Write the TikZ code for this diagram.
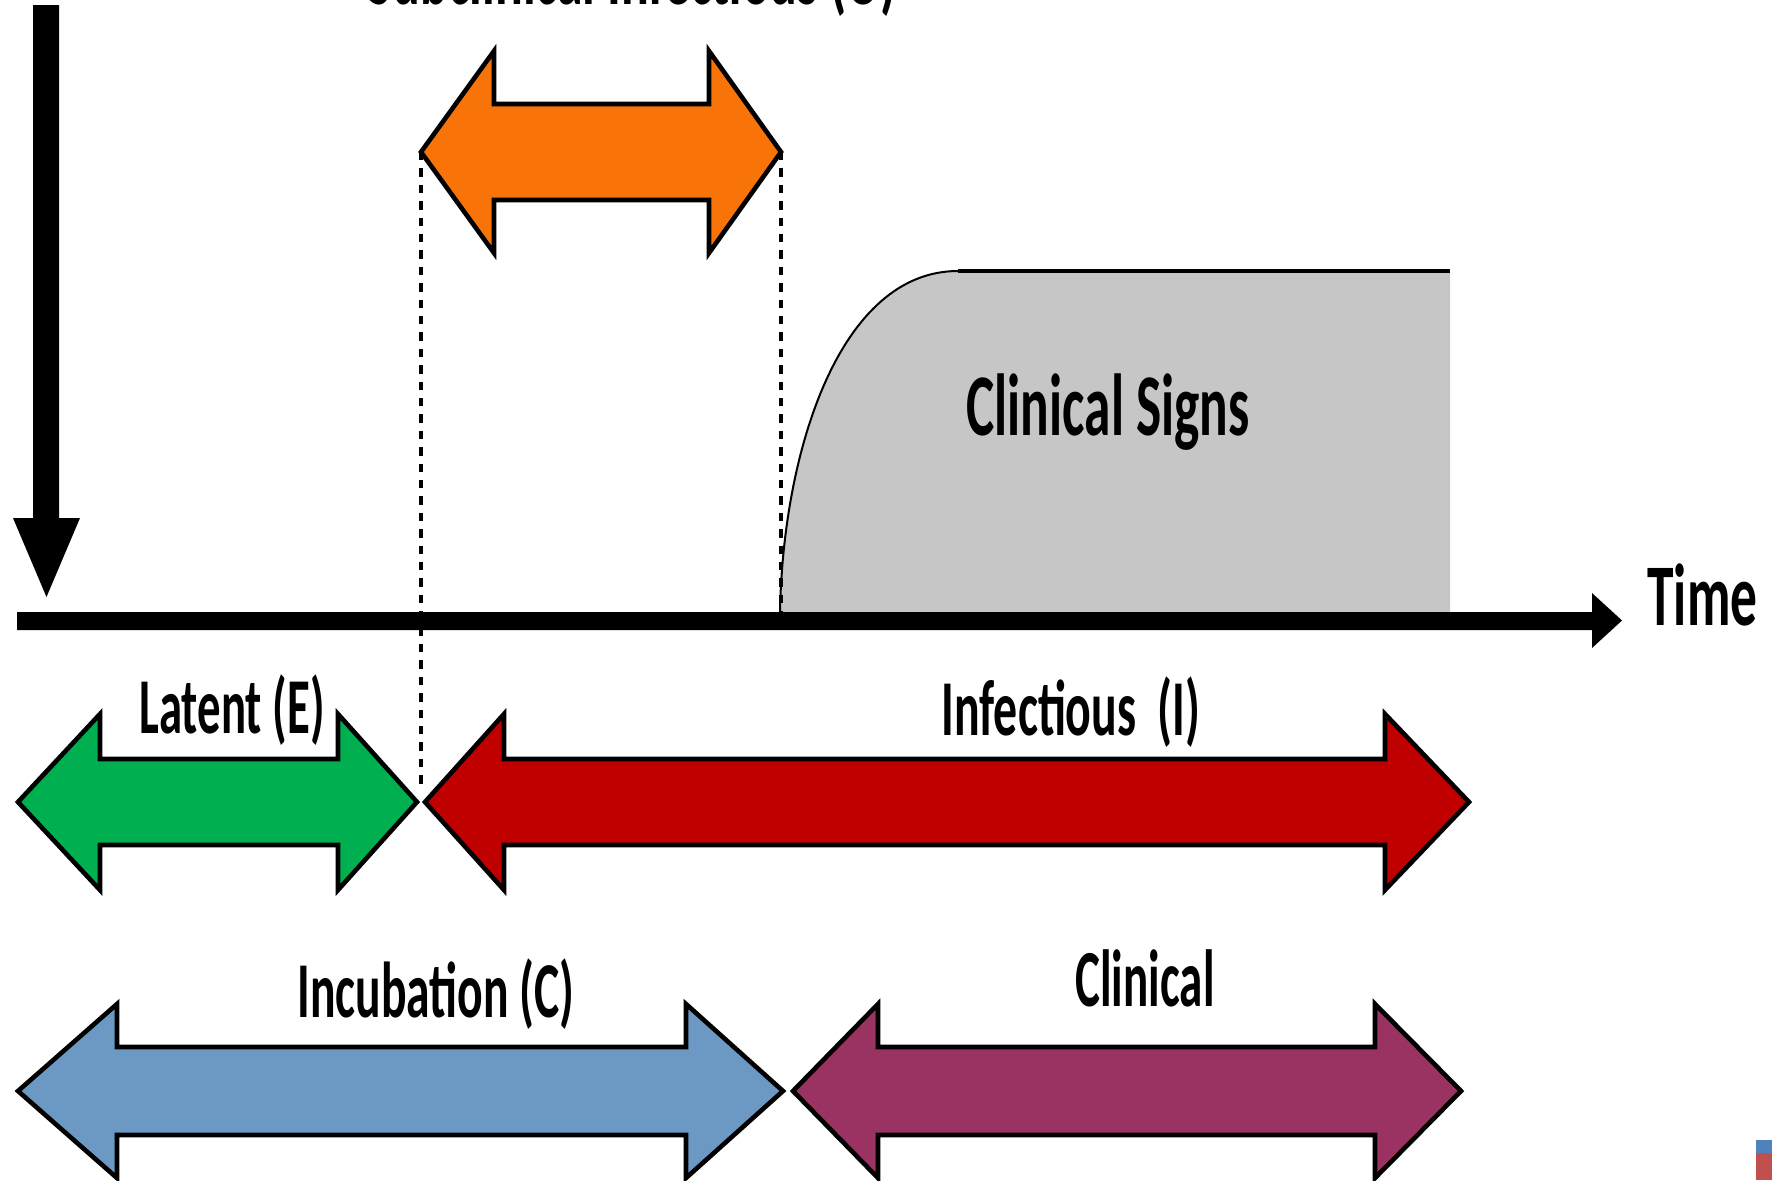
\documentclass[tikz,border=0pt]{standalone}
\usepackage{fontspec}
\setmainfont{Carlito}
\usepackage{graphicx}
\definecolor{cOrange}{HTML}{F87408}
\definecolor{cGreen}{HTML}{00B050}
\definecolor{cRed}{HTML}{C00000}
\definecolor{cBlue}{HTML}{6C98C4}
\definecolor{cPurple}{HTML}{9A3262}
\definecolor{cGray}{HTML}{C6C6C6}
\definecolor{cMsBlue}{HTML}{4F81BD}
\definecolor{cMsRed}{HTML}{C0504D}
\newcommand\lbl[3]{\resizebox{#1}{\height}{\fontsize{#2}{#2}\selectfont\bfseries #3}}
% color, xLeftTip, xLeftBase, xRightBase, xRightTip, yCenter, headHalf, shaftHalf
\newcommand\dblarrow[8]{%
  \filldraw[dblar, fill=#1] (#2,#6) -- (#3,#6-#7) -- (#3,#6-#8) -- (#4,#6-#8) -- (#4,#6-#7) -- (#5,#6)
    -- (#4,#6+#7) -- (#4,#6+#8) -- (#3,#6+#8) -- (#3,#6+#7) -- cycle;}
\begin{document}
\begin{tikzpicture}[x=0.5pt,y=-0.5pt,
  dblar/.style={draw=black, line width=2.3pt, line join=miter},
  dotline/.style={line width=2.2pt, dash pattern=on 4.2pt off 4pt},
  lab/.style={inner sep=0pt, anchor=base, text=black}]
\useasboundingbox (0,0) rectangle (1772,1180);

% clinical signs area
\fill[cGray] (780,612) .. controls (783,450) and (840,271) .. (958,271) -- (1450,271) -- (1450,612) -- cycle;
\draw[line width=1pt] (780,612) .. controls (783,450) and (840,271) .. (958,271);
\draw[line width=2pt] (958,271) -- (1450,271);

% dotted guides
\coordinate (oL) at (421,152);
\coordinate (oR) at (781,152);
\coordinate (jE) at (421,790);
\coordinate (jT) at (781,612);
\draw[dotline] (oL) -- (jE);
\draw[dotline] (oR) -- (jT);

% vertical arrow
\fill[black] (33,5) -- (59,5) -- (59,518) -- (80,518) -- (46.5,597) -- (13,518) -- (33,518) -- cycle;

% time axis
\fill[black] (17,612) -- (1592,612) -- (1592,593) -- (1622,620.5) -- (1592,648) -- (1592,630) -- (17,630) -- cycle;
\node[lab, anchor=base west] (time) at (1647,625) {\lbl{55pt}{44}{Time}};

% arrows
\dblarrow{cOrange}{421}{494}{709}{781}{152}{101}{48}
\dblarrow{cGreen}{18}{100}{338}{417}{802}{88}{43}
\dblarrow{cRed}{425}{504}{1385}{1469}{802}{88}{43}
\dblarrow{cBlue}{18}{117}{686}{783}{1091}{87}{44}
\dblarrow{cPurple}{793}{878}{1375}{1461}{1091}{87}{44}

% labels
\node[lab] (sub) at (632,4) {\lbl{264pt}{39.6}{Subclinical Infectious (U)}};
\node[lab] (signs) at (1108,435) {\lbl{141.5pt}{44}{Clinical Signs}};
\node[lab] (latent) at (232,733) {\lbl{92.5pt}{39.6}{Latent (E)}};
\node[lab] (infect) at (1071,735) {\lbl{129.5pt}{39.6}{Infectious~~(I)}};
\node[lab] (incub) at (436,1017) {\lbl{138.5pt}{39.6}{Incubation (C)}};
\node[lab] (clin) at (1145,1006) {\lbl{69.5pt}{40.5}{Clinical}};

% corner marks
\fill[cMsBlue] (1756,1140) rectangle (1772,1153);
\fill[cMsRed] (1756,1153) rectangle (1772,1180);
\end{tikzpicture}
\end{document}
